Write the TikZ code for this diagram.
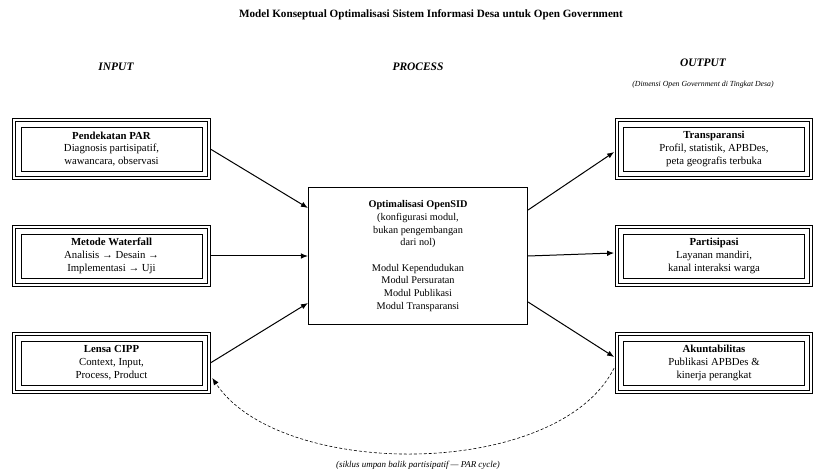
\documentclass[tikz,border=0pt]{standalone}
\usepackage{fontspec}
\setmainfont{Liberation Serif}
\usetikzlibrary{arrows.meta,calc}
\begin{document}
\begin{tikzpicture}[x=1bp,y=-1bp,
  dbox/.style={draw, line width=0.7bp,
    minimum width=181bp, minimum height=44bp, align=center,
    font=\fontsize{10.8}{12.8}\selectfont, inner sep=1bp},
  outerbox/.style={draw, line width=0.8bp},
  pbox/.style={draw, line width=1.1bp, minimum width=219bp, minimum height=137bp,
    align=center, font=\fontsize{10.3}{12.7}\selectfont},
  head/.style={font=\fontsize{11.5}{13}\selectfont\bfseries\itshape},
  conn/.style={line width=1bp, -{Latex[length=7bp,width=5.5bp]}},
  fb/.style={line width=0.6bp, dashed, dash pattern=on 3bp off 2bp, -{Latex[length=7bp,width=5.5bp]}}
]
\useasboundingbox (0,0) rectangle (817,472);
\node[font=\fontsize{11.2}{13}\selectfont\bfseries] (title) at (431,15) {Model Konseptual Optimalisasi Sistem Informasi Desa untuk Open Government};
\node[head] (hin) at (116,67) {INPUT};
\node[head] (hproc) at (418,67) {PROCESS};
\node[head] (hout) at (703,63) {OUTPUT};
\node[font=\fontsize{7.8}{9}\selectfont\itshape] (hsub) at (703,85) {(Dimensi Open Government di Tingkat Desa)};

\node[dbox] (par) at (111.5,149) {\textbf{Pendekatan PAR}\\Diagnosis partisipatif,\\wawancara, observasi};
\node[dbox] (wf) at (111.5,256) {\textbf{Metode Waterfall}\\Analisis → Desain →\\Implementasi → Uji};
\node[dbox] (cipp) at (111.5,363) {\textbf{Lensa CIPP}\\Context, Input,\\Process, Product};

\node[pbox] (proc) at (418,256) {\textbf{Optimalisasi OpenSID}\\(konfigurasi modul,\\bukan pengembangan\\dari nol)\\[12.7bp]Modul Kependudukan\\Modul Persuratan\\Modul Publikasi\\Modul Transparansi};

\node[dbox] (trans) at (714,149) {\textbf{Transparansi}\\Profil, statistik, APBDes,\\peta geografis terbuka};
\node[dbox] (part) at (714,256) {\textbf{Partisipasi}\\Layanan mandiri,\\kanal interaksi warga};
\node[dbox] (akun) at (714,363) {\textbf{Akuntabilitas}\\Publikasi APBDes \&\\kinerja perangkat};

\foreach \n in {par,wf,cipp,trans,part,akun}{
  \draw[outerbox] ($(\n.north west)+(-5,-5)$) rectangle ($(\n.south east)+(5,5)$);
  \draw[outerbox] ($(\n.north west)+(-8,-8)$) rectangle ($(\n.south east)+(8,8)$);
}

\draw[conn] ($(par.east)+(8,0)$) -- ($(proc.west)+(0,-48)$);
\draw[conn] ($(wf.east)+(8,0)$) -- ($(proc.west)+(0,0)$);
\draw[conn] ($(cipp.east)+(8,0)$) -- ($(proc.west)+(0,47)$);

\draw[conn] ($(proc.east)+(0,-46)$) -- ($(trans.west)+(-9,3)$);
\draw[conn] ($(proc.east)+(0,0)$) -- ($(part.west)+(-9,-3)$);
\draw[conn] ($(proc.east)+(0,46)$) -- ($(akun.west)+(-9,-6)$);

\draw[fb, shorten >=18bp] ($(akun.west)+(-9,5)$) .. controls (558,480) and (280,480) .. (cipp.east);
\node[font=\fontsize{9}{10}\selectfont\itshape] (cap) at (418,465) {(siklus umpan balik partisipatif — PAR cycle)};
\end{tikzpicture}
\end{document}
